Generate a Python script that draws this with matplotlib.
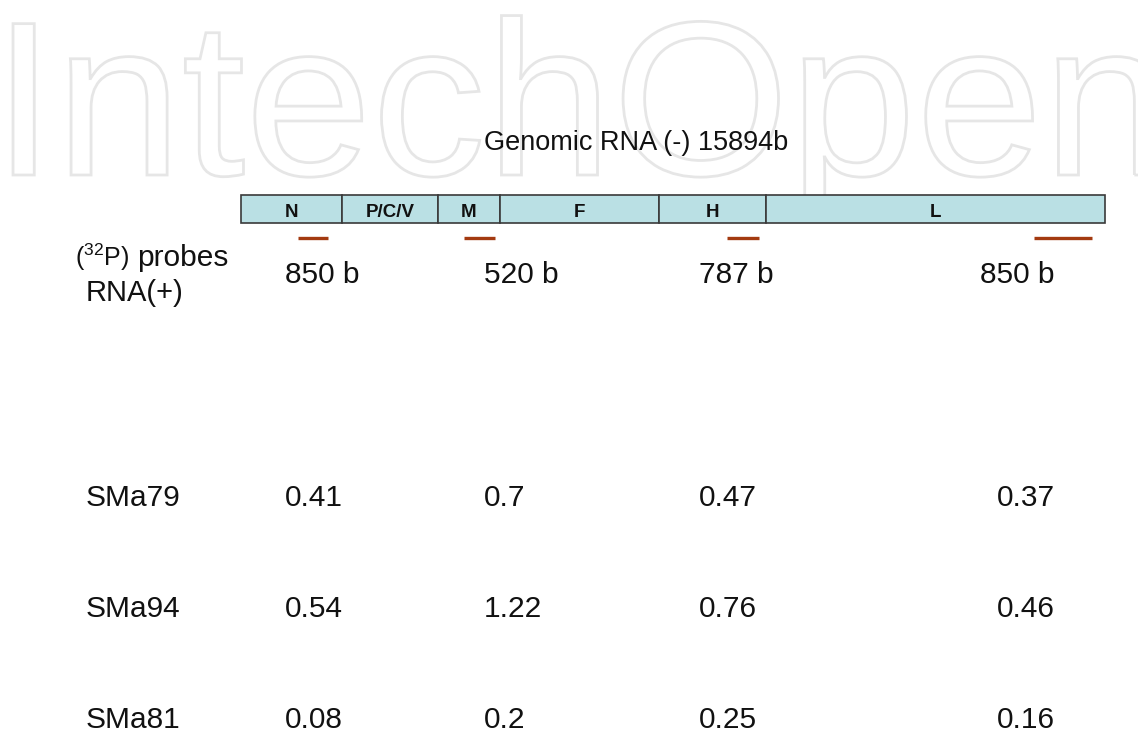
import matplotlib
matplotlib.use("Agg")
import matplotlib.pyplot as plt
from matplotlib.textpath import TextPath
from matplotlib.font_manager import FontProperties
from matplotlib.patches import PathPatch
from matplotlib.transforms import Affine2D

# ---------------- data ----------------
genome_len = 15894
title = "Genomic RNA (-) 15894b"
gene_names = ["N", "P/C/V", "M", "F", "H", "L"]
gene_starts = [0, 1858, 3624, 4765, 7690, 9658]
gene_ends = [1858, 3624, 4765, 7690, 9658, 15894]
probe_starts = [1049, 4102, 8940, 14588]
probe_ends = [1600, 4673, 9529, 15655]
probe_labels = ["850 b", "520 b", "787 b", "850 b"]
samples = ["SMa79", "SMa94", "SMa81"]
vals_N = [0.41, 0.54, 0.08]
vals_M = [0.7, 1.22, 0.2]
vals_H = [0.47, 0.76, 0.25]
vals_L = [0.37, 0.46, 0.16]

FONT = "Liberation Sans"
plt.rcParams["font.family"] = [FONT, "DejaVu Sans"]
plt.rcParams["mathtext.fontset"] = "custom"
plt.rcParams["mathtext.rm"] = FONT
plt.rcParams["mathtext.it"] = FONT

W, H = 1138, 732
fig = plt.figure(figsize=(W / 100, H / 100), dpi=100)
fig.patch.set_facecolor("white")
ax = fig.add_axes([0, 0, 1, 1])
ax.set_xlim(0, W)
ax.set_ylim(H, 0)
ax.axis("off")

# ---------------- watermark ----------------
tp = TextPath((0, 0), "IntechOpen", size=1, prop=FontProperties(family=FONT))
s = 220
tr = Affine2D().scale(s * 1.035, -s).translate(-8, 175)
wm = PathPatch(tr.transform_path(tp), facecolor="none", edgecolor="#e6e6e6",
               lw=2.0, zorder=0)
ax.add_patch(wm)

# ---------------- title ----------------
ax.text(636, 150.5, title, ha="center", va="baseline", fontsize=19.5, color="#111111", zorder=3)

# ---------------- genome bar ----------------
y_top, y_bot = 185, 250
gax = fig.add_axes([241 / W, (H - y_bot) / H, (1105 - 241) / W, (y_bot - y_top) / H])
gax.set_xlim(0, genome_len)
gax.set_ylim(y_bot, y_top)
gax.axis("off")
gax.patch.set_alpha(0)

lengths = [e - st for st, e in zip(gene_starts, gene_ends)]
bars = gax.barh([208.8] * len(gene_names), lengths, left=gene_starts, height=27.6,
                color="#bae0e4", edgecolor="#3a3a3a", linewidth=1.2)
for b in bars:
    b.set_clip_on(False)
for name, st, e in zip(gene_names, gene_starts, gene_ends):
    gax.text((st + e) / 2, 216.8, name, ha="center", va="baseline",
             fontsize=13.5, fontweight="bold", color="#111111")

gax.hlines([238.3] * len(probe_starts), probe_starts, probe_ends,
           color="#a33a10", linewidth=2.4, clip_on=False)

# ---------------- probe header ----------------
ax.text(129, 266, r"($^{32}$P)", ha="right", va="baseline", fontsize=18, color="#111111")
ax.text(228, 266, "probes", ha="right", va="baseline", fontsize=21.5, color="#111111")
ax.text(86, 301, "RNA(+)", ha="left", va="baseline", fontsize=21, color="#111111")

col_x = [285, 484, 699, 1055]
col_ha = ["left", "left", "left", "right"]
for lbl, x, ha in zip(probe_labels, col_x, col_ha):
    ax.text(x, 283, lbl, ha=ha, va="baseline", fontsize=21.5, color="#111111")

# ---------------- table ----------------
row_y = [506.5, 617, 728]
cols = [vals_N, vals_M, vals_H, vals_L]
for i, smp in enumerate(samples):
    ax.text(86, row_y[i], smp, ha="left", va="baseline", fontsize=21.5, color="#111111")
    for vals, x, ha in zip(cols, col_x, col_ha):
        ax.text(x, row_y[i], str(vals[i]), ha=ha, va="baseline", fontsize=21.5,
                color="#111111")

fig.savefig("out.png", dpi=100, facecolor="white")
